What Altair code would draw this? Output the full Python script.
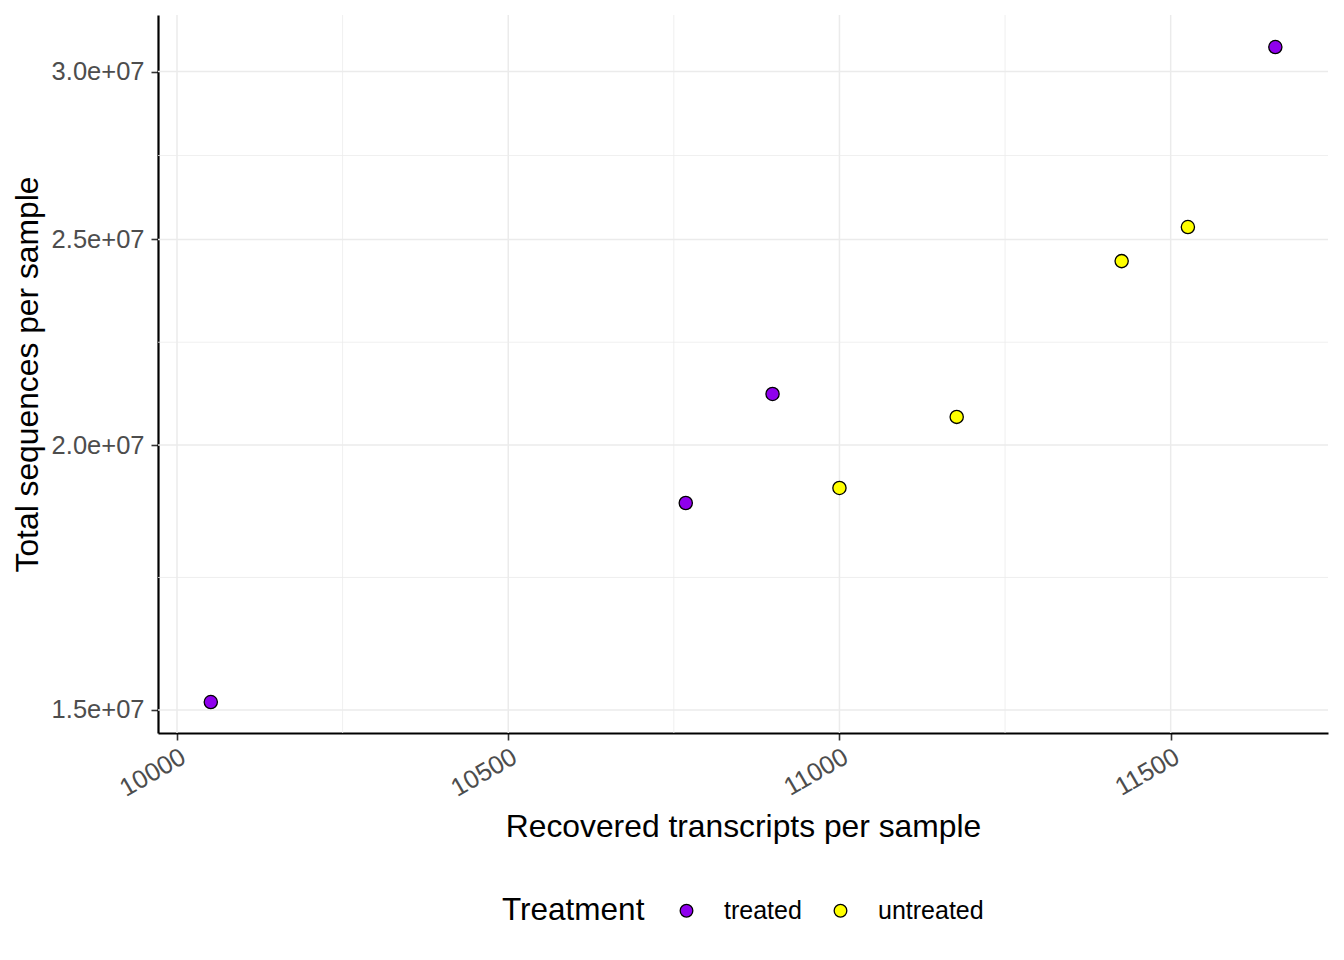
import altair as alt
import pandas as pd

recovered = [10051, 10768, 10899, 11658, 11000, 11177, 11426, 11526]
total_seqs = [1.513e7, 1.878e7, 2.114e7, 3.081e7, 1.909e7, 2.062e7, 2.442e7, 2.534e7]
treatment = ["treated", "treated", "treated", "treated",
             "untreated", "untreated", "untreated", "untreated"]

x_major = [10000, 10500, 11000, 11500]
x_minor = [10250, 10750, 11250]
y_major = [1.5e7, 2.0e7, 2.5e7, 3.0e7]
y_minor = [1.7321e7, 2.2361e7, 2.7386e7]

FONT = "Liberation Sans"

pts = pd.DataFrame({"x": recovered, "y": total_seqs, "Treatment": treatment})
gx_major = pd.DataFrame({"x": x_major})
gx_minor = pd.DataFrame({"x": x_minor})
gy_major = pd.DataFrame({"y": y_major})
gy_minor = pd.DataFrame({"y": y_minor})

xscale = alt.Scale(domain=[9971.3, 11737.5], nice=False, zero=False)
yscale = alt.Scale(type="log", domain=[1.463e7, 3.19e7], nice=False)

xaxis = alt.Axis(
    title="Recovered transcripts per sample", values=x_major, format="d",
    labelAngle=-30, labelAlign="right", labelBaseline="top",
    labelFontSize=25.5, labelColor="#4D4D4D", labelFont=FONT, labelPadding=4,
    tickSize=7, tickWidth=1.6, tickColor="#333333",
    domainColor="black", domainWidth=2.2, grid=False,
    titleFontSize=31.8, titleFont=FONT, titleColor="black", titleFontWeight="normal",
    titleBaseline="alphabetic", titleY=103,
)
yaxis = alt.Axis(
    title="Total sequences per sample", values=y_major,
    labelExpr="replace(format(datum.value, '.1e'), 'e+7', 'e+07')",
    labelFontSize=25.5, labelColor="#4D4D4D", labelFont=FONT, labelPadding=7,
    tickSize=7, tickWidth=1.6, tickColor="#333333",
    domainColor="black", domainWidth=2.2, grid=False,
    titleFontSize=31.8, titleFont=FONT, titleColor="black", titleFontWeight="normal",
    titleBaseline="alphabetic", titleX=-121,
)

vminor = alt.Chart(gx_minor).mark_rule(color="#EBEBEB", strokeWidth=0.8).encode(
    x=alt.X("x:Q", scale=xscale, axis=xaxis))
vmajor = alt.Chart(gx_major).mark_rule(color="#EBEBEB", strokeWidth=1.5).encode(
    x=alt.X("x:Q", scale=xscale, axis=xaxis))
hminor = alt.Chart(gy_minor).mark_rule(color="#EBEBEB", strokeWidth=0.8).encode(
    y=alt.Y("y:Q", scale=yscale, axis=yaxis))
hmajor = alt.Chart(gy_major).mark_rule(color="#EBEBEB", strokeWidth=1.5).encode(
    y=alt.Y("y:Q", scale=yscale, axis=yaxis))

points = alt.Chart(pts).mark_circle(size=175, opacity=1, stroke="black", strokeWidth=1.3).encode(
    x=alt.X("x:Q", scale=xscale, axis=xaxis),
    y=alt.Y("y:Q", scale=yscale, axis=yaxis),
    fill=alt.Fill("Treatment:N",
                  scale=alt.Scale(domain=["treated", "untreated"], range=["#8F00EE", "#FFFF00"]),
                  legend=alt.Legend(
                      title="Treatment", orient="none", direction="horizontal",
                      legendX=344, legendY=883, titleOrient="left",
                      titleFontSize=31.5, titleFont=FONT, titleFontWeight="normal", titleColor="black",
                      labelFontSize=25, labelFont=FONT, labelColor="black",
                      symbolType="circle", symbolSize=160, symbolStrokeColor="black",
                      symbolStrokeWidth=1.3, titlePadding=29, labelOffset=25, columnPadding=26,
                  )),
)

chart = alt.layer(vminor, vmajor, hminor, hmajor, points).properties(
    width=1170, height=718,
    autosize=alt.AutoSizeParams(type="none"),
    padding={"left": 150, "top": 7, "right": 8, "bottom": 219},
    background="white",
).configure_view(stroke=None)

chart.save("out.html", embed_options={"renderer": "svg", "actions": False})
